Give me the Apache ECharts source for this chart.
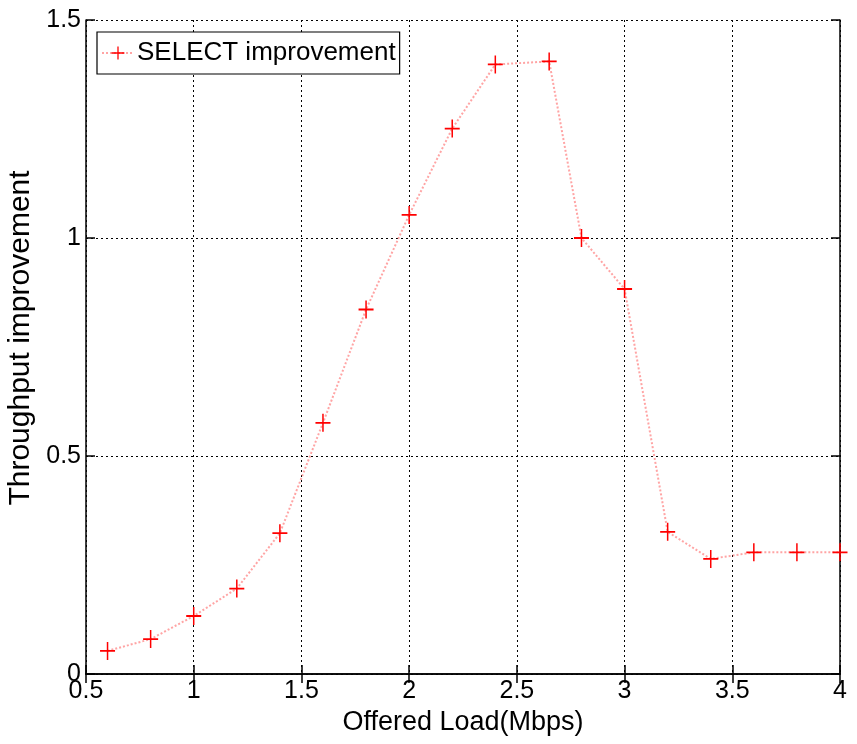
<!DOCTYPE html>
<html>
<head>
<meta charset="utf-8">
<script src="https://cdn.jsdelivr.net/npm/echarts@6/dist/echarts.min.js"></script>
<style>
html,body{margin:0;padding:0;background:#fff;}
#chart{width:857px;height:744px;}
</style>
</head>
<body>
<div id="chart"></div>
<script>
const offeredLoad = [0.6, 0.8, 1.0, 1.2, 1.4, 1.6, 1.8, 2.0, 2.2, 2.4, 2.65, 2.8, 3.0, 3.2, 3.4, 3.6, 3.8, 4.0];
const improvement = [0.053, 0.080, 0.133, 0.196, 0.323, 0.576, 0.836, 1.053, 1.251, 1.398, 1.405, 1.0, 0.883, 0.326, 0.264, 0.279, 0.279, 0.279];
const seriesName = 'SELECT improvement';
const xTitle = 'Offered Load(Mbps)';
const yTitle = 'Throughput improvement';

const FONT = "'Liberation Sans', Arial, sans-serif";
const chart = echarts.init(document.getElementById('chart'));

const axisCommon = {
  axisLine: { show: true, lineStyle: { color: '#000', width: 1.5 } },
  axisTick: { show: true, inside: true, length: 9, lineStyle: { color: '#000', width: 1.5 } },
};

chart.setOption({
  animation: false,
  backgroundColor: '#fff',
  grid: { left: 86, right: 17, top: 20, bottom: 70, containLabel: false, outerBoundsMode: 'none' },
  legend: {
    show: true,
    left: 97, top: 32,
    padding: [8, 4, 8, 4],
    backgroundColor: '#fff',
    borderColor: '#000',
    borderWidth: 1.2,
    itemWidth: 32, itemHeight: 16,
    itemGap: 4,
    textStyle: { fontFamily: FONT, fontSize: 26, color: '#000', padding: [0, 0, 0, -2] },
    data: [seriesName]
  },
  xAxis: [
    Object.assign({
      type: 'value', min: 0.5, max: 4, interval: 0.5, position: 'bottom',
      name: xTitle, nameLocation: 'middle', nameGap: 34,
      nameTextStyle: { fontFamily: FONT, fontSize: 27, color: '#000' },
      axisLabel: { fontFamily: FONT, fontSize: 25, color: '#000', margin: 5 },
      splitLine: { show: true, lineStyle: { color: '#000', width: 1, type: [2, 3] } }
    }, axisCommon),
    Object.assign({
      type: 'value', min: 0.5, max: 4, interval: 0.5, position: 'top',
      axisLabel: { show: false }, splitLine: { show: false }
    }, axisCommon)
  ],
  yAxis: [
    Object.assign({
      type: 'value', min: 0, max: 1.5, interval: 0.5, position: 'left',
      name: yTitle, nameLocation: 'middle', nameGap: 47, nameRotate: 90,
      nameTextStyle: { fontFamily: FONT, fontSize: 30, color: '#000', padding: [0, 0, 0, 18] },
      axisLabel: { fontFamily: FONT, fontSize: 25, color: '#000', margin: 5 },
      splitLine: { show: true, lineStyle: { color: '#000', width: 1, type: [2, 3] } }
    }, axisCommon),
    Object.assign({
      type: 'value', min: 0, max: 1.5, interval: 0.5, position: 'right',
      axisLabel: { show: false }, splitLine: { show: false }
    }, axisCommon)
  ],
  series: [{
    name: seriesName,
    type: 'line',
    xAxisIndex: 0, yAxisIndex: 0,
    data: offeredLoad.map((x, i) => [x, improvement[i]]),
    symbol: 'path://M0,9H20V11H0Z M9,0H11V20H9Z',
    symbolSize: [15, 18],
    showAllSymbol: true,
    itemStyle: { color: '#ff0000', borderWidth: 0 },
    lineStyle: { color: 'rgba(255,90,90,0.55)', width: 2, type: [2, 2] },
    z: 5
  }]
});
</script>
</body>
</html>
